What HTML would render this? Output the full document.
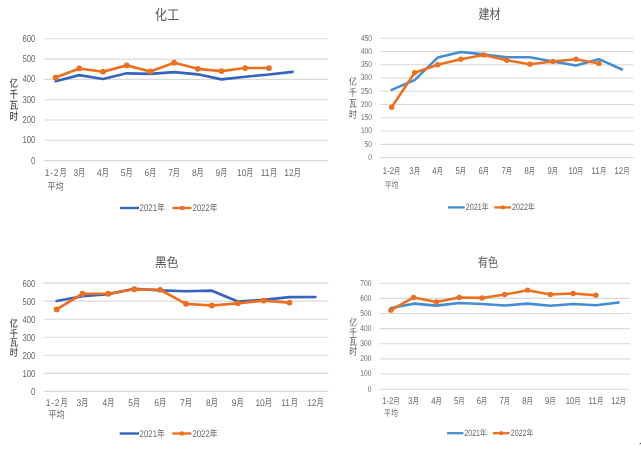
<!DOCTYPE html>
<html><head><meta charset="utf-8"><title>用电量</title>
<style>
html,body{margin:0;padding:0;background:#fff;}
body{width:641px;height:453px;overflow:hidden;}
svg{display:block;}
text{font-family:"Liberation Sans", "Noto Sans CJK SC", sans-serif;text-rendering:geometricPrecision;}
</style></head>
<body>
<svg width="641" height="453" viewBox="0 0 641 453">
<rect width="641" height="453" fill="#fff"/>
<rect x="639.6" y="442.8" width="1.4" height="1.4" fill="#666"/>
<text x="0" y="0" font-size="14.6" text-anchor="middle" fill="#595959" transform="translate(167 20.2) scale(0.84 1)">化工</text>
<line x1="44" y1="160.6" x2="328.2" y2="160.6" stroke="#d9d9d9" stroke-width="1.1"/>
<text x="0" y="0" font-size="9.9" text-anchor="end" fill="#666666" transform="translate(35.3 163.54) scale(0.78 1)">0</text>
<line x1="44" y1="140.3" x2="328.2" y2="140.3" stroke="#d9d9d9" stroke-width="1.1"/>
<text x="0" y="0" font-size="9.9" text-anchor="end" fill="#666666" transform="translate(35.3 143.24) scale(0.78 1)">100</text>
<line x1="44" y1="120" x2="328.2" y2="120" stroke="#d9d9d9" stroke-width="1.1"/>
<text x="0" y="0" font-size="9.9" text-anchor="end" fill="#666666" transform="translate(35.3 122.94) scale(0.78 1)">200</text>
<line x1="44" y1="99.7" x2="328.2" y2="99.7" stroke="#d9d9d9" stroke-width="1.1"/>
<text x="0" y="0" font-size="9.9" text-anchor="end" fill="#666666" transform="translate(35.3 102.64) scale(0.78 1)">300</text>
<line x1="44" y1="79.4" x2="328.2" y2="79.4" stroke="#d9d9d9" stroke-width="1.1"/>
<text x="0" y="0" font-size="9.9" text-anchor="end" fill="#666666" transform="translate(35.3 82.34) scale(0.78 1)">400</text>
<line x1="44" y1="59.1" x2="328.2" y2="59.1" stroke="#d9d9d9" stroke-width="1.1"/>
<text x="0" y="0" font-size="9.9" text-anchor="end" fill="#666666" transform="translate(35.3 62.04) scale(0.78 1)">500</text>
<line x1="44" y1="38.8" x2="328.2" y2="38.8" stroke="#d9d9d9" stroke-width="1.1"/>
<text x="0" y="0" font-size="9.9" text-anchor="end" fill="#666666" transform="translate(35.3 41.74) scale(0.78 1)">600</text>
<text x="0" y="0" font-size="10.5" text-anchor="middle" fill="#4a4a4a" transform="translate(13.85 86.55) scale(0.82 1)" font-weight="500">亿</text>
<text x="0" y="0" font-size="10.5" text-anchor="middle" fill="#4a4a4a" transform="translate(13.85 97.85) scale(0.82 1)" font-weight="500">千</text>
<text x="0" y="0" font-size="10.5" text-anchor="middle" fill="#4a4a4a" transform="translate(13.85 109.15) scale(0.82 1)" font-weight="500">瓦</text>
<text x="0" y="0" font-size="10.5" text-anchor="middle" fill="#4a4a4a" transform="translate(13.85 120.45) scale(0.82 1)" font-weight="500">时</text>
<text x="0" y="0" font-size="9.8" text-anchor="start" fill="#666666" transform="translate(44.65 176.2) scale(0.86 1)" letter-spacing="1">1-2</text><text x="0" y="0" font-size="10.2" text-anchor="start" fill="#666666" transform="translate(59.41 176.2) scale(0.7 1)">月</text>
<text x="0" y="0" font-size="9.8" text-anchor="start" fill="#666666" transform="translate(73.39 176.2) scale(0.86 1)">3</text><text x="0" y="0" font-size="10.2" text-anchor="start" fill="#666666" transform="translate(78.07 176.2) scale(0.7 1)">月</text>
<text x="0" y="0" font-size="9.8" text-anchor="start" fill="#666666" transform="translate(97.09 176.2) scale(0.86 1)">4</text><text x="0" y="0" font-size="10.2" text-anchor="start" fill="#666666" transform="translate(101.77 176.2) scale(0.7 1)">月</text>
<text x="0" y="0" font-size="9.8" text-anchor="start" fill="#666666" transform="translate(120.79 176.2) scale(0.86 1)">5</text><text x="0" y="0" font-size="10.2" text-anchor="start" fill="#666666" transform="translate(125.47 176.2) scale(0.7 1)">月</text>
<text x="0" y="0" font-size="9.8" text-anchor="start" fill="#666666" transform="translate(144.49 176.2) scale(0.86 1)">6</text><text x="0" y="0" font-size="10.2" text-anchor="start" fill="#666666" transform="translate(149.17 176.2) scale(0.7 1)">月</text>
<text x="0" y="0" font-size="9.8" text-anchor="start" fill="#666666" transform="translate(168.19 176.2) scale(0.86 1)">7</text><text x="0" y="0" font-size="10.2" text-anchor="start" fill="#666666" transform="translate(172.87 176.2) scale(0.7 1)">月</text>
<text x="0" y="0" font-size="9.8" text-anchor="start" fill="#666666" transform="translate(191.89 176.2) scale(0.86 1)">8</text><text x="0" y="0" font-size="10.2" text-anchor="start" fill="#666666" transform="translate(196.57 176.2) scale(0.7 1)">月</text>
<text x="0" y="0" font-size="9.8" text-anchor="start" fill="#666666" transform="translate(215.59 176.2) scale(0.86 1)">9</text><text x="0" y="0" font-size="10.2" text-anchor="start" fill="#666666" transform="translate(220.27 176.2) scale(0.7 1)">月</text>
<text x="0" y="0" font-size="9.8" text-anchor="start" fill="#666666" transform="translate(236.94 176.2) scale(0.86 1)">10</text><text x="0" y="0" font-size="10.2" text-anchor="start" fill="#666666" transform="translate(246.32 176.2) scale(0.7 1)">月</text>
<text x="0" y="0" font-size="9.8" text-anchor="start" fill="#666666" transform="translate(260.64 176.2) scale(0.86 1)">11</text><text x="0" y="0" font-size="10.2" text-anchor="start" fill="#666666" transform="translate(270.02 176.2) scale(0.7 1)">月</text>
<text x="0" y="0" font-size="9.8" text-anchor="start" fill="#666666" transform="translate(284.34 176.2) scale(0.86 1)">12</text><text x="0" y="0" font-size="10.2" text-anchor="start" fill="#666666" transform="translate(293.72 176.2) scale(0.7 1)">月</text>
<text x="0" y="0" font-size="10.2" text-anchor="start" fill="#666666" transform="translate(47.44 189.6) scale(0.8 1)">平均</text>
<polyline points="55.6,81.23 79.3,75.14 103,78.99 126.7,73.31 150.4,73.92 174.1,72.09 197.8,74.32 221.5,79.4 245.2,76.76 268.9,74.53 292.6,71.89" fill="none" stroke="#3463c0" stroke-width="2.65" stroke-linejoin="round" stroke-linecap="round"/>
<polyline points="55.6,77.57 79.3,68.44 103,71.69 126.7,65.39 150.4,71.48 174.1,62.75 197.8,68.84 221.5,71.08 245.2,68.03 268.9,68.03" fill="none" stroke="#ec7020" stroke-width="2.65" stroke-linejoin="round" stroke-linecap="round"/>
<circle cx="55.6" cy="77.57" r="2.9" fill="#ec7020"/>
<circle cx="79.3" cy="68.44" r="2.9" fill="#ec7020"/>
<circle cx="103" cy="71.69" r="2.9" fill="#ec7020"/>
<circle cx="126.7" cy="65.39" r="2.9" fill="#ec7020"/>
<circle cx="150.4" cy="71.48" r="2.9" fill="#ec7020"/>
<circle cx="174.1" cy="62.75" r="2.9" fill="#ec7020"/>
<circle cx="197.8" cy="68.84" r="2.9" fill="#ec7020"/>
<circle cx="221.5" cy="71.08" r="2.9" fill="#ec7020"/>
<circle cx="245.2" cy="68.03" r="2.9" fill="#ec7020"/>
<circle cx="268.9" cy="68.03" r="2.9" fill="#ec7020"/>
<line x1="120" y1="208" x2="139" y2="208" stroke="#3463c0" stroke-width="2.4"/>
<line x1="172.4" y1="208" x2="191.5" y2="208" stroke="#ec7020" stroke-width="2.4"/>
<circle cx="181.95" cy="208" r="2.3" fill="#ec7020"/>
<text x="0" y="0" font-size="9.6" text-anchor="start" fill="#666666" transform="translate(139.6 211.3) scale(0.8 1)"><tspan font-size="9.8">2021</tspan>年</text>
<text x="0" y="0" font-size="9.6" text-anchor="start" fill="#666666" transform="translate(192.4 211.3) scale(0.8 1)"><tspan font-size="9.8">2022</tspan>年</text>
<text x="0" y="0" font-size="13.6" text-anchor="middle" fill="#595959" transform="translate(489.5 19.3) scale(0.81 1)">建材</text>
<line x1="380.1" y1="157.6" x2="633.5" y2="157.6" stroke="#d9d9d9" stroke-width="1.1"/>
<text x="0" y="0" font-size="8.3" text-anchor="end" fill="#666666" transform="translate(372 159.97) scale(0.8 1)">0</text>
<line x1="380.1" y1="144.33" x2="633.5" y2="144.33" stroke="#d9d9d9" stroke-width="1.1"/>
<text x="0" y="0" font-size="8.3" text-anchor="end" fill="#666666" transform="translate(372 146.7) scale(0.8 1)">50</text>
<line x1="380.1" y1="131.07" x2="633.5" y2="131.07" stroke="#d9d9d9" stroke-width="1.1"/>
<text x="0" y="0" font-size="8.3" text-anchor="end" fill="#666666" transform="translate(372 133.44) scale(0.8 1)">100</text>
<line x1="380.1" y1="117.8" x2="633.5" y2="117.8" stroke="#d9d9d9" stroke-width="1.1"/>
<text x="0" y="0" font-size="8.3" text-anchor="end" fill="#666666" transform="translate(372 120.17) scale(0.8 1)">150</text>
<line x1="380.1" y1="104.53" x2="633.5" y2="104.53" stroke="#d9d9d9" stroke-width="1.1"/>
<text x="0" y="0" font-size="8.3" text-anchor="end" fill="#666666" transform="translate(372 106.9) scale(0.8 1)">200</text>
<line x1="380.1" y1="91.27" x2="633.5" y2="91.27" stroke="#d9d9d9" stroke-width="1.1"/>
<text x="0" y="0" font-size="8.3" text-anchor="end" fill="#666666" transform="translate(372 93.64) scale(0.8 1)">250</text>
<line x1="380.1" y1="78" x2="633.5" y2="78" stroke="#d9d9d9" stroke-width="1.1"/>
<text x="0" y="0" font-size="8.3" text-anchor="end" fill="#666666" transform="translate(372 80.37) scale(0.8 1)">300</text>
<line x1="380.1" y1="64.73" x2="633.5" y2="64.73" stroke="#d9d9d9" stroke-width="1.1"/>
<text x="0" y="0" font-size="8.3" text-anchor="end" fill="#666666" transform="translate(372 67.1) scale(0.8 1)">350</text>
<line x1="380.1" y1="51.47" x2="633.5" y2="51.47" stroke="#d9d9d9" stroke-width="1.1"/>
<text x="0" y="0" font-size="8.3" text-anchor="end" fill="#666666" transform="translate(372 53.84) scale(0.8 1)">400</text>
<line x1="380.1" y1="38.2" x2="633.5" y2="38.2" stroke="#d9d9d9" stroke-width="1.1"/>
<text x="0" y="0" font-size="8.3" text-anchor="end" fill="#666666" transform="translate(372 40.57) scale(0.8 1)">450</text>
<text x="0" y="0" font-size="10" text-anchor="middle" fill="#595959" transform="translate(352.95 84.8) scale(0.78 1)" font-weight="400">亿</text>
<text x="0" y="0" font-size="10" text-anchor="middle" fill="#595959" transform="translate(352.95 95.93) scale(0.78 1)" font-weight="400">千</text>
<text x="0" y="0" font-size="10" text-anchor="middle" fill="#595959" transform="translate(352.95 107.06) scale(0.78 1)" font-weight="400">瓦</text>
<text x="0" y="0" font-size="10" text-anchor="middle" fill="#595959" transform="translate(352.95 118.19) scale(0.78 1)" font-weight="400">时</text>
<text x="0" y="0" font-size="9.7" text-anchor="start" fill="#666666" transform="translate(382.83 173.8) scale(0.8 1)">1-2</text><text x="0" y="0" font-size="8.8" text-anchor="start" fill="#666666" transform="translate(394.04 173.8) scale(0.72 1)">月</text>
<text x="0" y="0" font-size="9.7" text-anchor="start" fill="#666666" transform="translate(409.31 173.8) scale(0.8 1)">3</text><text x="0" y="0" font-size="8.8" text-anchor="start" fill="#666666" transform="translate(413.63 173.8) scale(0.72 1)">月</text>
<text x="0" y="0" font-size="9.7" text-anchor="start" fill="#666666" transform="translate(432.35 173.8) scale(0.8 1)">4</text><text x="0" y="0" font-size="8.8" text-anchor="start" fill="#666666" transform="translate(436.67 173.8) scale(0.72 1)">月</text>
<text x="0" y="0" font-size="9.7" text-anchor="start" fill="#666666" transform="translate(455.39 173.8) scale(0.8 1)">5</text><text x="0" y="0" font-size="8.8" text-anchor="start" fill="#666666" transform="translate(459.71 173.8) scale(0.72 1)">月</text>
<text x="0" y="0" font-size="9.7" text-anchor="start" fill="#666666" transform="translate(478.43 173.8) scale(0.8 1)">6</text><text x="0" y="0" font-size="8.8" text-anchor="start" fill="#666666" transform="translate(482.75 173.8) scale(0.72 1)">月</text>
<text x="0" y="0" font-size="9.7" text-anchor="start" fill="#666666" transform="translate(501.47 173.8) scale(0.8 1)">7</text><text x="0" y="0" font-size="8.8" text-anchor="start" fill="#666666" transform="translate(505.79 173.8) scale(0.72 1)">月</text>
<text x="0" y="0" font-size="9.7" text-anchor="start" fill="#666666" transform="translate(524.51 173.8) scale(0.8 1)">8</text><text x="0" y="0" font-size="8.8" text-anchor="start" fill="#666666" transform="translate(528.83 173.8) scale(0.72 1)">月</text>
<text x="0" y="0" font-size="9.7" text-anchor="start" fill="#666666" transform="translate(547.55 173.8) scale(0.8 1)">9</text><text x="0" y="0" font-size="8.8" text-anchor="start" fill="#666666" transform="translate(551.87 173.8) scale(0.72 1)">月</text>
<text x="0" y="0" font-size="9.7" text-anchor="start" fill="#666666" transform="translate(568.44 173.8) scale(0.8 1)">10</text><text x="0" y="0" font-size="8.8" text-anchor="start" fill="#666666" transform="translate(577.07 173.8) scale(0.72 1)">月</text>
<text x="0" y="0" font-size="9.7" text-anchor="start" fill="#666666" transform="translate(591.48 173.8) scale(0.8 1)">11</text><text x="0" y="0" font-size="8.8" text-anchor="start" fill="#666666" transform="translate(600.11 173.8) scale(0.72 1)">月</text>
<text x="0" y="0" font-size="9.7" text-anchor="start" fill="#666666" transform="translate(614.52 173.8) scale(0.8 1)">12</text><text x="0" y="0" font-size="8.8" text-anchor="start" fill="#666666" transform="translate(623.15 173.8) scale(0.72 1)">月</text>
<text x="0" y="0" font-size="8.8" text-anchor="start" fill="#666666" transform="translate(384.74 187.7) scale(0.78 1)">平均</text>
<polyline points="391.6,89.94 414.64,80.12 437.68,57.57 460.72,52 483.76,54.39 506.8,57.3 529.84,57.3 552.88,61.55 575.92,65.53 598.96,59.16 622,69.51" fill="none" stroke="#458dd2" stroke-width="2.55" stroke-linejoin="round" stroke-linecap="round"/>
<polyline points="391.6,107.19 414.64,72.69 437.68,64.73 460.72,59.16 483.76,54.92 506.8,60.22 529.84,64.2 552.88,61.55 575.92,59.16 598.96,63.41" fill="none" stroke="#ec7020" stroke-width="2.55" stroke-linejoin="round" stroke-linecap="round"/>
<circle cx="391.6" cy="107.19" r="2.7" fill="#ec7020"/>
<circle cx="414.64" cy="72.69" r="2.7" fill="#ec7020"/>
<circle cx="437.68" cy="64.73" r="2.7" fill="#ec7020"/>
<circle cx="460.72" cy="59.16" r="2.7" fill="#ec7020"/>
<circle cx="483.76" cy="54.92" r="2.7" fill="#ec7020"/>
<circle cx="506.8" cy="60.22" r="2.7" fill="#ec7020"/>
<circle cx="529.84" cy="64.2" r="2.7" fill="#ec7020"/>
<circle cx="552.88" cy="61.55" r="2.7" fill="#ec7020"/>
<circle cx="575.92" cy="59.16" r="2.7" fill="#ec7020"/>
<circle cx="598.96" cy="63.41" r="2.7" fill="#ec7020"/>
<line x1="448" y1="207.4" x2="464.7" y2="207.4" stroke="#458dd2" stroke-width="2.3"/>
<line x1="494.3" y1="207.4" x2="511.1" y2="207.4" stroke="#ec7020" stroke-width="2.3"/>
<circle cx="502.7" cy="207.4" r="2.1" fill="#ec7020"/>
<text x="0" y="0" font-size="8.8" text-anchor="start" fill="#666666" transform="translate(465.8 210.2) scale(0.78 1)"><tspan font-size="9.2">2021</tspan>年</text>
<text x="0" y="0" font-size="8.8" text-anchor="start" fill="#666666" transform="translate(512 210.2) scale(0.78 1)"><tspan font-size="9.2">2022</tspan>年</text>
<text x="0" y="0" font-size="13" text-anchor="middle" fill="#595959" transform="translate(166.7 267.4) scale(0.9 1)">黑色</text>
<line x1="43.7" y1="391.4" x2="328.4" y2="391.4" stroke="#d9d9d9" stroke-width="1.1"/>
<text x="0" y="0" font-size="9.9" text-anchor="end" fill="#666666" transform="translate(35.3 395.04) scale(0.78 1)">0</text>
<line x1="43.7" y1="373.35" x2="328.4" y2="373.35" stroke="#d9d9d9" stroke-width="1.1"/>
<text x="0" y="0" font-size="9.9" text-anchor="end" fill="#666666" transform="translate(35.3 376.99) scale(0.78 1)">100</text>
<line x1="43.7" y1="355.3" x2="328.4" y2="355.3" stroke="#d9d9d9" stroke-width="1.1"/>
<text x="0" y="0" font-size="9.9" text-anchor="end" fill="#666666" transform="translate(35.3 358.94) scale(0.78 1)">200</text>
<line x1="43.7" y1="337.25" x2="328.4" y2="337.25" stroke="#d9d9d9" stroke-width="1.1"/>
<text x="0" y="0" font-size="9.9" text-anchor="end" fill="#666666" transform="translate(35.3 340.89) scale(0.78 1)">300</text>
<line x1="43.7" y1="319.2" x2="328.4" y2="319.2" stroke="#d9d9d9" stroke-width="1.1"/>
<text x="0" y="0" font-size="9.9" text-anchor="end" fill="#666666" transform="translate(35.3 322.84) scale(0.78 1)">400</text>
<line x1="43.7" y1="301.15" x2="328.4" y2="301.15" stroke="#d9d9d9" stroke-width="1.1"/>
<text x="0" y="0" font-size="9.9" text-anchor="end" fill="#666666" transform="translate(35.3 304.79) scale(0.78 1)">500</text>
<line x1="43.7" y1="283.1" x2="328.4" y2="283.1" stroke="#d9d9d9" stroke-width="1.1"/>
<text x="0" y="0" font-size="9.9" text-anchor="end" fill="#666666" transform="translate(35.3 286.74) scale(0.78 1)">600</text>
<text x="0" y="0" font-size="10" text-anchor="middle" fill="#4a4a4a" transform="translate(13.85 327.15) scale(0.82 1)" font-weight="500">亿</text>
<text x="0" y="0" font-size="10" text-anchor="middle" fill="#4a4a4a" transform="translate(13.85 336.7) scale(0.82 1)" font-weight="500">千</text>
<text x="0" y="0" font-size="10" text-anchor="middle" fill="#4a4a4a" transform="translate(13.85 346.25) scale(0.82 1)" font-weight="500">瓦</text>
<text x="0" y="0" font-size="10" text-anchor="middle" fill="#4a4a4a" transform="translate(13.85 355.8) scale(0.82 1)" font-weight="500">时</text>
<text x="0" y="0" font-size="9.8" text-anchor="start" fill="#666666" transform="translate(45.65 405.9) scale(0.86 1)" letter-spacing="1">1-2</text><text x="0" y="0" font-size="10.2" text-anchor="start" fill="#666666" transform="translate(60.41 405.9) scale(0.7 1)">月</text>
<text x="0" y="0" font-size="9.8" text-anchor="start" fill="#666666" transform="translate(76.57 405.9) scale(0.86 1)">3</text><text x="0" y="0" font-size="10.2" text-anchor="start" fill="#666666" transform="translate(81.25 405.9) scale(0.7 1)">月</text>
<text x="0" y="0" font-size="9.8" text-anchor="start" fill="#666666" transform="translate(102.45 405.9) scale(0.86 1)">4</text><text x="0" y="0" font-size="10.2" text-anchor="start" fill="#666666" transform="translate(107.13 405.9) scale(0.7 1)">月</text>
<text x="0" y="0" font-size="9.8" text-anchor="start" fill="#666666" transform="translate(128.33 405.9) scale(0.86 1)">5</text><text x="0" y="0" font-size="10.2" text-anchor="start" fill="#666666" transform="translate(133.01 405.9) scale(0.7 1)">月</text>
<text x="0" y="0" font-size="9.8" text-anchor="start" fill="#666666" transform="translate(154.21 405.9) scale(0.86 1)">6</text><text x="0" y="0" font-size="10.2" text-anchor="start" fill="#666666" transform="translate(158.89 405.9) scale(0.7 1)">月</text>
<text x="0" y="0" font-size="9.8" text-anchor="start" fill="#666666" transform="translate(180.09 405.9) scale(0.86 1)">7</text><text x="0" y="0" font-size="10.2" text-anchor="start" fill="#666666" transform="translate(184.77 405.9) scale(0.7 1)">月</text>
<text x="0" y="0" font-size="9.8" text-anchor="start" fill="#666666" transform="translate(205.97 405.9) scale(0.86 1)">8</text><text x="0" y="0" font-size="10.2" text-anchor="start" fill="#666666" transform="translate(210.65 405.9) scale(0.7 1)">月</text>
<text x="0" y="0" font-size="9.8" text-anchor="start" fill="#666666" transform="translate(231.85 405.9) scale(0.86 1)">9</text><text x="0" y="0" font-size="10.2" text-anchor="start" fill="#666666" transform="translate(236.53 405.9) scale(0.7 1)">月</text>
<text x="0" y="0" font-size="9.8" text-anchor="start" fill="#666666" transform="translate(255.38 405.9) scale(0.86 1)">10</text><text x="0" y="0" font-size="10.2" text-anchor="start" fill="#666666" transform="translate(264.76 405.9) scale(0.7 1)">月</text>
<text x="0" y="0" font-size="9.8" text-anchor="start" fill="#666666" transform="translate(281.26 405.9) scale(0.86 1)">11</text><text x="0" y="0" font-size="10.2" text-anchor="start" fill="#666666" transform="translate(290.64 405.9) scale(0.7 1)">月</text>
<text x="0" y="0" font-size="9.8" text-anchor="start" fill="#666666" transform="translate(307.14 405.9) scale(0.86 1)">12</text><text x="0" y="0" font-size="10.2" text-anchor="start" fill="#666666" transform="translate(316.52 405.9) scale(0.7 1)">月</text>
<text x="0" y="0" font-size="10.2" text-anchor="start" fill="#666666" transform="translate(48.44 417.8) scale(0.8 1)">平均</text>
<polyline points="56.6,300.97 82.48,296.28 108.36,294.11 134.24,288.7 160.12,290.32 186,291.22 211.88,290.68 237.76,301.51 263.64,299.89 289.52,297.18 315.4,297" fill="none" stroke="#3463c0" stroke-width="2.65" stroke-linejoin="round" stroke-linecap="round"/>
<polyline points="56.6,309.45 82.48,293.75 108.36,293.75 134.24,289.24 160.12,289.78 186,303.86 211.88,305.48 237.76,303.32 263.64,300.61 289.52,302.59" fill="none" stroke="#ec7020" stroke-width="2.65" stroke-linejoin="round" stroke-linecap="round"/>
<circle cx="56.6" cy="309.45" r="2.9" fill="#ec7020"/>
<circle cx="82.48" cy="293.75" r="2.9" fill="#ec7020"/>
<circle cx="108.36" cy="293.75" r="2.9" fill="#ec7020"/>
<circle cx="134.24" cy="289.24" r="2.9" fill="#ec7020"/>
<circle cx="160.12" cy="289.78" r="2.9" fill="#ec7020"/>
<circle cx="186" cy="303.86" r="2.9" fill="#ec7020"/>
<circle cx="211.88" cy="305.48" r="2.9" fill="#ec7020"/>
<circle cx="237.76" cy="303.32" r="2.9" fill="#ec7020"/>
<circle cx="263.64" cy="300.61" r="2.9" fill="#ec7020"/>
<circle cx="289.52" cy="302.59" r="2.9" fill="#ec7020"/>
<line x1="119.7" y1="433.5" x2="139" y2="433.5" stroke="#3463c0" stroke-width="2.4"/>
<line x1="172.3" y1="433.5" x2="191.4" y2="433.5" stroke="#ec7020" stroke-width="2.4"/>
<circle cx="181.85" cy="433.5" r="2.3" fill="#ec7020"/>
<text x="0" y="0" font-size="9.6" text-anchor="start" fill="#666666" transform="translate(139.6 436.8) scale(0.8 1)"><tspan font-size="9.8">2021</tspan>年</text>
<text x="0" y="0" font-size="9.6" text-anchor="start" fill="#666666" transform="translate(192.4 436.8) scale(0.8 1)"><tspan font-size="9.8">2022</tspan>年</text>
<text x="0" y="0" font-size="13" text-anchor="middle" fill="#595959" transform="translate(488.1 267.4) scale(0.79 1)">有色</text>
<line x1="379.5" y1="389.2" x2="630.1" y2="389.2" stroke="#d9d9d9" stroke-width="1.1"/>
<text x="0" y="0" font-size="8.3" text-anchor="end" fill="#666666" transform="translate(371.4 391.57) scale(0.8 1)">0</text>
<line x1="379.5" y1="374.06" x2="630.1" y2="374.06" stroke="#d9d9d9" stroke-width="1.1"/>
<text x="0" y="0" font-size="8.3" text-anchor="end" fill="#666666" transform="translate(371.4 376.43) scale(0.8 1)">100</text>
<line x1="379.5" y1="358.91" x2="630.1" y2="358.91" stroke="#d9d9d9" stroke-width="1.1"/>
<text x="0" y="0" font-size="8.3" text-anchor="end" fill="#666666" transform="translate(371.4 361.29) scale(0.8 1)">200</text>
<line x1="379.5" y1="343.77" x2="630.1" y2="343.77" stroke="#d9d9d9" stroke-width="1.1"/>
<text x="0" y="0" font-size="8.3" text-anchor="end" fill="#666666" transform="translate(371.4 346.14) scale(0.8 1)">300</text>
<line x1="379.5" y1="328.63" x2="630.1" y2="328.63" stroke="#d9d9d9" stroke-width="1.1"/>
<text x="0" y="0" font-size="8.3" text-anchor="end" fill="#666666" transform="translate(371.4 331) scale(0.8 1)">400</text>
<line x1="379.5" y1="313.49" x2="630.1" y2="313.49" stroke="#d9d9d9" stroke-width="1.1"/>
<text x="0" y="0" font-size="8.3" text-anchor="end" fill="#666666" transform="translate(371.4 315.86) scale(0.8 1)">500</text>
<line x1="379.5" y1="298.34" x2="630.1" y2="298.34" stroke="#d9d9d9" stroke-width="1.1"/>
<text x="0" y="0" font-size="8.3" text-anchor="end" fill="#666666" transform="translate(371.4 300.71) scale(0.8 1)">600</text>
<line x1="379.5" y1="283.2" x2="630.1" y2="283.2" stroke="#d9d9d9" stroke-width="1.1"/>
<text x="0" y="0" font-size="8.3" text-anchor="end" fill="#666666" transform="translate(371.4 285.57) scale(0.8 1)">700</text>
<text x="0" y="0" font-size="10" text-anchor="middle" fill="#595959" transform="translate(353.25 326) scale(0.78 1)" font-weight="400">亿</text>
<text x="0" y="0" font-size="10" text-anchor="middle" fill="#595959" transform="translate(353.25 335.5) scale(0.78 1)" font-weight="400">千</text>
<text x="0" y="0" font-size="10" text-anchor="middle" fill="#595959" transform="translate(353.25 345) scale(0.78 1)" font-weight="400">瓦</text>
<text x="0" y="0" font-size="10" text-anchor="middle" fill="#595959" transform="translate(353.25 354.5) scale(0.78 1)" font-weight="400">时</text>
<text x="0" y="0" font-size="9.7" text-anchor="start" fill="#666666" transform="translate(382.13 403.8) scale(0.8 1)">1-2</text><text x="0" y="0" font-size="8.8" text-anchor="start" fill="#666666" transform="translate(393.34 403.8) scale(0.72 1)">月</text>
<text x="0" y="0" font-size="9.7" text-anchor="start" fill="#666666" transform="translate(408.35 403.8) scale(0.8 1)">3</text><text x="0" y="0" font-size="8.8" text-anchor="start" fill="#666666" transform="translate(412.67 403.8) scale(0.72 1)">月</text>
<text x="0" y="0" font-size="9.7" text-anchor="start" fill="#666666" transform="translate(431.13 403.8) scale(0.8 1)">4</text><text x="0" y="0" font-size="8.8" text-anchor="start" fill="#666666" transform="translate(435.45 403.8) scale(0.72 1)">月</text>
<text x="0" y="0" font-size="9.7" text-anchor="start" fill="#666666" transform="translate(453.91 403.8) scale(0.8 1)">5</text><text x="0" y="0" font-size="8.8" text-anchor="start" fill="#666666" transform="translate(458.23 403.8) scale(0.72 1)">月</text>
<text x="0" y="0" font-size="9.7" text-anchor="start" fill="#666666" transform="translate(476.69 403.8) scale(0.8 1)">6</text><text x="0" y="0" font-size="8.8" text-anchor="start" fill="#666666" transform="translate(481.01 403.8) scale(0.72 1)">月</text>
<text x="0" y="0" font-size="9.7" text-anchor="start" fill="#666666" transform="translate(499.47 403.8) scale(0.8 1)">7</text><text x="0" y="0" font-size="8.8" text-anchor="start" fill="#666666" transform="translate(503.79 403.8) scale(0.72 1)">月</text>
<text x="0" y="0" font-size="9.7" text-anchor="start" fill="#666666" transform="translate(522.25 403.8) scale(0.8 1)">8</text><text x="0" y="0" font-size="8.8" text-anchor="start" fill="#666666" transform="translate(526.57 403.8) scale(0.72 1)">月</text>
<text x="0" y="0" font-size="9.7" text-anchor="start" fill="#666666" transform="translate(545.03 403.8) scale(0.8 1)">9</text><text x="0" y="0" font-size="8.8" text-anchor="start" fill="#666666" transform="translate(549.35 403.8) scale(0.72 1)">月</text>
<text x="0" y="0" font-size="9.7" text-anchor="start" fill="#666666" transform="translate(565.66 403.8) scale(0.8 1)">10</text><text x="0" y="0" font-size="8.8" text-anchor="start" fill="#666666" transform="translate(574.29 403.8) scale(0.72 1)">月</text>
<text x="0" y="0" font-size="9.7" text-anchor="start" fill="#666666" transform="translate(588.44 403.8) scale(0.8 1)">11</text><text x="0" y="0" font-size="8.8" text-anchor="start" fill="#666666" transform="translate(597.07 403.8) scale(0.72 1)">月</text>
<text x="0" y="0" font-size="9.7" text-anchor="start" fill="#666666" transform="translate(611.22 403.8) scale(0.8 1)">12</text><text x="0" y="0" font-size="8.8" text-anchor="start" fill="#666666" transform="translate(619.85 403.8) scale(0.72 1)">月</text>
<text x="0" y="0" font-size="8.8" text-anchor="start" fill="#666666" transform="translate(384.04 416) scale(0.78 1)">平均</text>
<polyline points="390.9,307.88 413.68,303.64 436.46,305.61 459.24,303.04 482.02,303.95 504.8,305.46 527.58,303.64 550.36,305.76 573.14,304.1 595.92,305.16 618.7,302.43" fill="none" stroke="#458dd2" stroke-width="2.55" stroke-linejoin="round" stroke-linecap="round"/>
<polyline points="390.9,310.15 413.68,297.43 436.46,301.98 459.24,297.43 482.02,297.89 504.8,294.56 527.58,290.17 550.36,294.41 573.14,293.5 595.92,295.16" fill="none" stroke="#ec7020" stroke-width="2.55" stroke-linejoin="round" stroke-linecap="round"/>
<circle cx="390.9" cy="310.15" r="2.7" fill="#ec7020"/>
<circle cx="413.68" cy="297.43" r="2.7" fill="#ec7020"/>
<circle cx="436.46" cy="301.98" r="2.7" fill="#ec7020"/>
<circle cx="459.24" cy="297.43" r="2.7" fill="#ec7020"/>
<circle cx="482.02" cy="297.89" r="2.7" fill="#ec7020"/>
<circle cx="504.8" cy="294.56" r="2.7" fill="#ec7020"/>
<circle cx="527.58" cy="290.17" r="2.7" fill="#ec7020"/>
<circle cx="550.36" cy="294.41" r="2.7" fill="#ec7020"/>
<circle cx="573.14" cy="293.5" r="2.7" fill="#ec7020"/>
<circle cx="595.92" cy="295.16" r="2.7" fill="#ec7020"/>
<line x1="447.1" y1="433.2" x2="463.4" y2="433.2" stroke="#458dd2" stroke-width="2.3"/>
<line x1="493" y1="433.2" x2="509.6" y2="433.2" stroke="#ec7020" stroke-width="2.3"/>
<circle cx="501.3" cy="433.2" r="2.1" fill="#ec7020"/>
<text x="0" y="0" font-size="8.8" text-anchor="start" fill="#666666" transform="translate(464.3 436.2) scale(0.77 1)"><tspan font-size="9.2">2021</tspan>年</text>
<text x="0" y="0" font-size="8.8" text-anchor="start" fill="#666666" transform="translate(510.8 436.2) scale(0.77 1)"><tspan font-size="9.2">2022</tspan>年</text>
</svg>
</body></html>
